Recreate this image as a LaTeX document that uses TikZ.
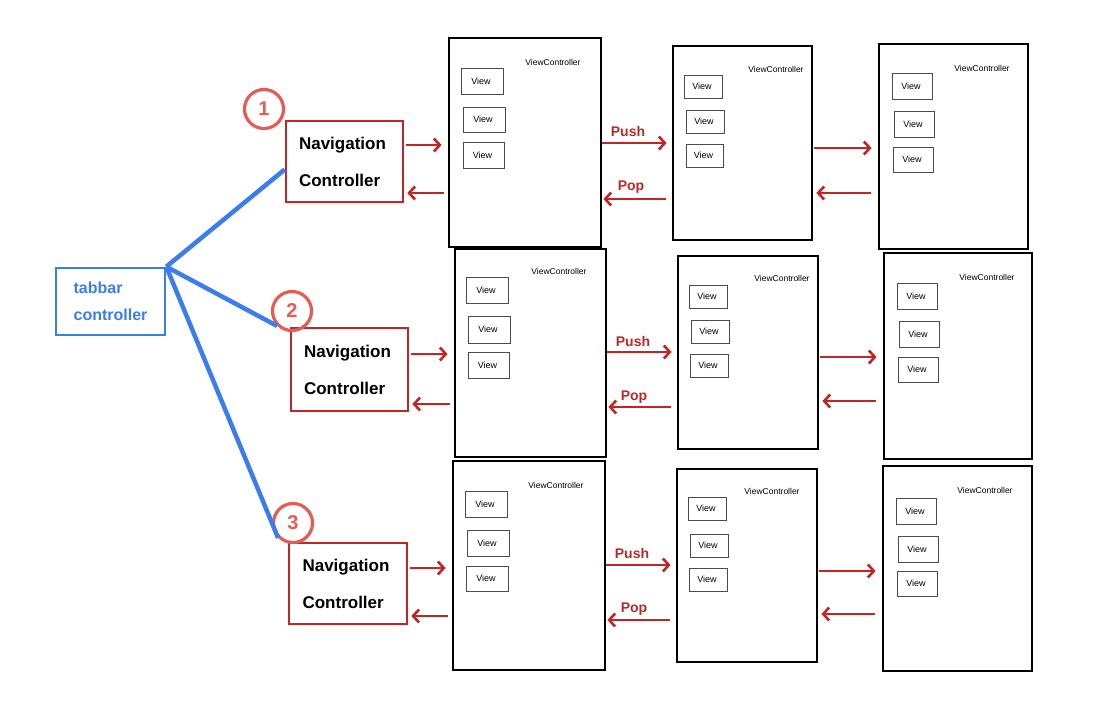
\documentclass[tikz,border=0pt]{standalone}
\usepackage{fontspec}
\setmainfont{Liberation Sans}
\usetikzlibrary{arrows.meta,fit}
\definecolor{tabblue}{RGB}{59,125,237}
\definecolor{navred}{RGB}{192,38,38}
\definecolor{circred}{RGB}{228,92,86}
\begin{document}
\begin{tikzpicture}[x=1pt,y=-1pt,
  vc/.style={draw=black, line width=2.8pt, inner sep=0pt},
  view/.style={draw=black!70, line width=0.9pt, inner sep=0pt},
  viewtext/.style={inner sep=0pt, font=\fontsize{9}{10}\selectfont},
  vclabel/.style={inner sep=0pt, font=\fontsize{8.5}{9}\selectfont},
  nav/.style={draw=navred, line width=2.6pt, inner sep=0pt},
  navtext/.style={inner sep=0pt, align=left, font=\bfseries\fontsize{17}{37}\selectfont},
  tabbox/.style={draw=tabblue, line width=2.6pt, inner sep=0pt},
  tabtext/.style={inner sep=0pt, align=left, text=tabblue, font=\bfseries\fontsize{16}{27}\selectfont},
  link/.style={draw=tabblue, line width=4.5pt},
  arr/.style={draw=navred, line width=2.6pt, -{Straight Barb[length=6pt,width=13pt]}},
  num/.style={circle, draw=circred, line width=3.2pt, text=circred, minimum size=39pt, inner sep=0pt, font=\bfseries\fontsize{20}{20}\selectfont},
  act/.style={text=navred, inner sep=0pt, font=\bfseries\fontsize{14}{14}\selectfont}]
\useasboundingbox (0,0) rectangle (1108,714);

% tab bar controller
\node[tabbox, fit={(56,268) (165,335)}] (tab) {};
\node[tabtext] (tabt) at (tab.center) {tabbar\\controller};

% navigation controllers
\node[nav, fit={(286,121) (403,202)}] (nav1) {};
\node[nav, fit={(291,328) (408,411)}] (nav2) {};
\node[nav, fit={(289,543) (407,624)}] (nav3) {};
\foreach \r in {1,2,3}{
  \node[navtext] (nav\r t) at ([xshift=-2pt]nav\r.center) {Navigation\\Controller};
}

\node[num] (c1) at (264,109) {1};
\node[num] (c2) at (292,311) {2};
\node[num] (c3) at (293,523) {3};

% links
\draw[link] (tab.north east) -- ([yshift=-8pt]nav1.west);
\draw[link] (tab.north east) -- (c2.south west);
\draw[link] (tab.north east) -- (c3.south west);

% ---- row 1 view controllers
\node[vc, fit={(449,38) (601,247)}] (vc1a) {};
\node[vclabel] (l1a) at (553,62) {ViewController};
\node[view, fit={(461,68) (503,94)}] (v1a1) {};
\node[view, fit={(463,107) (505,132)}] (v1a2) {};
\node[view, fit={(463,142) (504,168)}] (v1a3) {};

\node[vc, fit={(673,46) (812,240)}] (vc1b) {};
\node[vclabel] (l1b) at (776,69) {ViewController};
\node[view, fit={(684,75) (722,98)}] (v1b1) {};
\node[view, fit={(686,110) (724,133)}] (v1b2) {};
\node[view, fit={(686,144) (723,167)}] (v1b3) {};

\node[vc, fit={(879,44) (1028,249)}] (vc1c) {};
\node[vclabel] (l1c) at (982,68) {ViewController};
\node[view, fit={(892,73) (932,99)}] (v1c1) {};
\node[view, fit={(894,111) (934,137)}] (v1c2) {};
\node[view, fit={(893,147) (933,172)}] (v1c3) {};

% ---- row 2
\node[vc, fit={(455,249) (606,457)}] (vc2a) {};
\node[vclabel] (l2a) at (559,271) {ViewController};
\node[view, fit={(466,277) (508,303)}] (v2a1) {};
\node[view, fit={(468,316) (510,343)}] (v2a2) {};
\node[view, fit={(468,352) (509,378)}] (v2a3) {};

\node[vc, fit={(678,256) (818,449)}] (vc2b) {};
\node[vclabel] (l2b) at (782,278) {ViewController};
\node[view, fit={(689,285) (727,308)}] (v2b1) {};
\node[view, fit={(691,320) (729,343)}] (v2b2) {};
\node[view, fit={(690,354) (728,377)}] (v2b3) {};

\node[vc, fit={(884,253) (1032,459)}] (vc2c) {};
\node[vclabel] (l2c) at (987,277) {ViewController};
\node[view, fit={(897,283) (937,309)}] (v2c1) {};
\node[view, fit={(899,321) (939,347)}] (v2c2) {};
\node[view, fit={(898,357) (938,382)}] (v2c3) {};

% ---- row 3
\node[vc, fit={(453,461) (605,670)}] (vc3a) {};
\node[vclabel] (l3a) at (556,485) {ViewController};
\node[view, fit={(465,491) (507,517)}] (v3a1) {};
\node[view, fit={(467,530) (509,556)}] (v3a2) {};
\node[view, fit={(466,566) (508,591)}] (v3a3) {};

\node[vc, fit={(677,469) (817,662)}] (vc3b) {};
\node[vclabel] (l3b) at (772,491) {ViewController};
\node[view, fit={(688,497) (726,520)}] (v3b1) {};
\node[view, fit={(690,534) (728,557)}] (v3b2) {};
\node[view, fit={(689,568) (727,591)}] (v3b3) {};

\node[vc, fit={(883,466) (1032,671)}] (vc3c) {};
\node[vclabel] (l3c) at (985,490) {ViewController};
\node[view, fit={(896,498) (936,524)}] (v3c1) {};
\node[view, fit={(898,536) (938,562)}] (v3c2) {};
\node[view, fit={(897,571) (937,596)}] (v3c3) {};

% "View" texts
\foreach \r in {1,2,3}{
  \foreach \c in {a,b,c}{
    \foreach \k in {1,2,3}{
      \node[viewtext] (v\r\c\k t) at ([xshift=-1pt]v\r\c\k.center) {View};
    }
  }
}

% arrow heights
\coordinate (h1a) at (0,145); \coordinate (h1b) at (0,193);
\coordinate (h1c) at (0,143); \coordinate (h1d) at (0,199);
\coordinate (h1e) at (0,148); \coordinate (h1f) at (0,193);
\coordinate (h2a) at (0,354); \coordinate (h2b) at (0,404);
\coordinate (h2c) at (0,352); \coordinate (h2d) at (0,407);
\coordinate (h2e) at (0,357); \coordinate (h2f) at (0,401);
\coordinate (h3a) at (0,568); \coordinate (h3b) at (0,616);
\coordinate (h3c) at (0,565); \coordinate (h3d) at (0,620);
\coordinate (h3e) at (0,571); \coordinate (h3f) at (0,614);

\foreach \r in {1,2,3}{
  \draw[arr, shorten <=2pt, shorten >=6pt] (nav\r.east |- h\r a) -- (vc\r a.west |- h\r a);
  \draw[arr, shorten <=4pt, shorten >=3pt] (vc\r a.west |- h\r b) -- (nav\r.east |- h\r b);
  \draw[arr, shorten >=5pt] (vc\r a.east |- h\r c) -- (vc\r b.west |- h\r c);
  \draw[arr, shorten <=6pt, shorten >=1pt] (vc\r b.west |- h\r d) -- (vc\r a.east |- h\r d);
  \draw[arr, shorten <=1pt, shorten >=6pt] (vc\r b.east |- h\r e) -- (vc\r c.west |- h\r e);
  \draw[arr, shorten <=7pt, shorten >=3pt] (vc\r c.west |- h\r f) -- (vc\r b.east |- h\r f);
}

% push / pop labels
\node[act] (push1) at (628,131) {Push};
\node[act] (pop1) at (631,187) {Pop};
\node[act] (push2) at (633,341) {Push};
\node[act] (pop2) at (634,397) {Pop};
\node[act] (push3) at (632,553) {Push};
\node[act] (pop3) at (634,609) {Pop};
\end{tikzpicture}
\end{document}
